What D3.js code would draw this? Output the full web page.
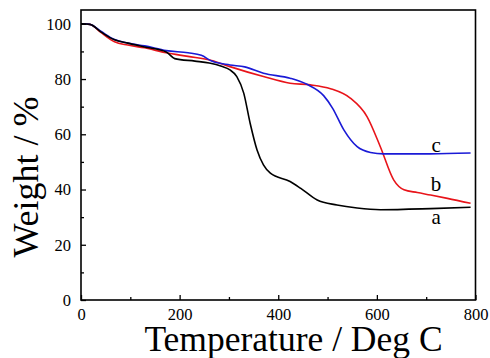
<!DOCTYPE html>
<html>
<head>
<meta charset="utf-8">
<script src="https://cdn.jsdelivr.net/npm/d3@7"></script>
<style>
body{margin:0;background:#fff;}
svg text{font-family:"Liberation Serif","DejaVu Serif",serif;}
</style>
</head>
<body>
<script>
const w=490;
const h=358;

// TGA curves (temperature in deg C, weight in %)
const tempA=[0,18,41,68,95,129,173,190,231,260,285,302,316,330,343,357,370,384,424,445,479,519,560,607,709,790];
const weightA=[100,99.8,97,94.2,93,91.6,89.8,87.4,86.5,85.8,84.6,83.3,80.9,74.9,64,54.3,48.9,45.9,42.9,40.5,36.2,34.4,33.3,32.7,33.1,33.6];

const tempB=[0,18,41,68,95,129,173,217,265,302,370,424,465,506,546,580,607,634,655,682,709,743,790];
const weightB=[100,99.8,96.8,93.5,92.3,91.3,89.5,88.2,86.7,84.5,80.9,78.5,77.9,76.5,73.1,66.4,55.5,43.5,39.9,38.9,38,36.8,35];

const tempC=[0,18,41,68,95,129,173,217,244,265,302,332,370,424,458,492,510,533,560,587,614,708,790];
const weightC=[100,99.8,97.2,94.3,93,92,90.3,89.5,88.6,86.5,85.1,84.4,82.1,80.3,78.1,74,69.5,61.6,55.5,53.4,52.9,52.9,53.2];

const seriesNames=["a","b","c"];
const seriesColors=["#000000","#e8141a","#1a1ad6"];
// where the curve letters sit (temperature, weight)
const labelTemp=[720,720,720];
const labelWeight=[27.4,39.3,53.5];

const xTicks=[0,200,400,600,800];
const yTicks=[0,20,40,60,80,100];

const serif="'Liberation Serif','DejaVu Serif',serif";

let svg=d3.select("body")
  .append("svg")
  .attr("width",w)
  .attr("height",h)
  .attr("font-family",serif);

let x=d3.scaleLinear()
  .domain([0,800])
  .range([81,475.5]);

let y=d3.scaleLinear()
  .domain([0,105])
  .range([300,10]);

let series=[
  d3.zip(tempA,weightA),
  d3.zip(tempB,weightB),
  d3.zip(tempC,weightC)
];

let line=d3.line()
  .x(d => x(d[0]))
  .y(d => y(d[1]))
  .curve(d3.curveMonotoneX);

// curves, a drawn last so it sits like the original
[1,2,0].forEach(i => {
  svg.append("path")
    .datum(series[i])
    .attr("d",line)
    .attr("fill","none")
    .attr("stroke",seriesColors[i])
    .attr("stroke-width",1.6);
});

// frame
svg.append("rect")
  .attr("x",x(0))
  .attr("y",y(105))
  .attr("width",x(800)-x(0))
  .attr("height",y(0)-y(105))
  .attr("fill","none")
  .attr("stroke","#000")
  .attr("stroke-width",1.6);

// axes with ticks pointing inside
let xAxis=d3.axisBottom(x)
  .tickValues(xTicks)
  .tickSize(-5)
  .tickPadding(8)
  .tickFormat(d3.format("d"));

let xMinor=d3.axisBottom(x)
  .tickValues([100,300,500,700])
  .tickSize(-3)
  .tickFormat("");

let yAxis=d3.axisLeft(y)
  .tickValues(yTicks)
  .tickSize(-5)
  .tickPadding(10)
  .tickFormat(d3.format("d"));

let yMinor=d3.axisLeft(y)
  .tickValues([10,30,50,70,90])
  .tickSize(-3)
  .tickFormat("");

[xAxis,xMinor].forEach(a => {
  svg.append("g")
    .attr("transform","translate(0,"+y(0)+")")
    .call(a);
});
[yAxis,yMinor].forEach(a => {
  svg.append("g")
    .attr("transform","translate("+x(0)+",0)")
    .call(a);
});

svg.selectAll(".domain").remove();
svg.selectAll("g").attr("font-family",serif);
svg.selectAll(".tick line").attr("stroke","#000").attr("stroke-width",1.3);
svg.selectAll(".tick text")
  .filter(function(){ return this.textContent===""; })
  .remove();
svg.selectAll(".tick text")
  .attr("fill","#000")
  .attr("font-size",16.5);

// curve letters
svg.selectAll(".lab")
  .data(seriesNames)
  .enter()
  .append("text")
  .attr("class","lab")
  .attr("x",(d,i) => x(labelTemp[i]))
  .attr("y",(d,i) => y(labelWeight[i]))
  .attr("text-anchor","middle")
  .attr("font-size",21)
  .text(d => d);

// axis titles
svg.append("text")
  .attr("x",293.5)
  .attr("y",351)
  .attr("text-anchor","middle")
  .attr("font-size",35.5)
  .text("Temperature / Deg C");

svg.append("text")
  .attr("transform","translate(38,177) rotate(-90)")
  .attr("text-anchor","middle")
  .attr("font-size",36)
  .text("Weight / %");
</script>
</body>
</html>
